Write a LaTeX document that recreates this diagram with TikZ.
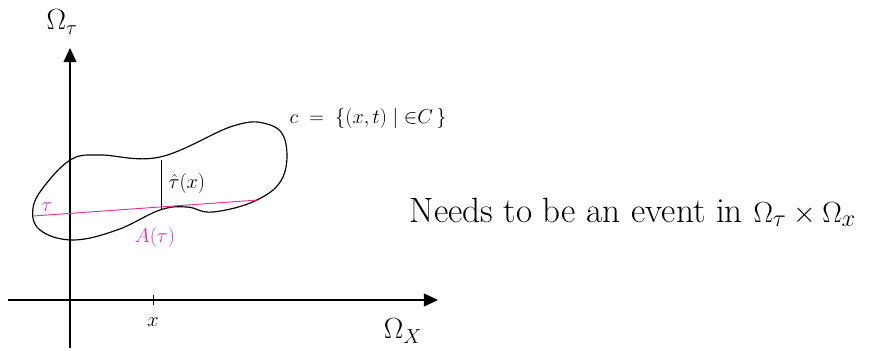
\documentclass[tikz,border=0pt]{standalone}
\usepackage{amsmath,amssymb}
\usepackage{xcolor}
\usetikzlibrary{arrows.meta}
\definecolor{pinkline}{RGB}{232,48,160}

\begin{document}
\begin{tikzpicture}[x=0.03cm, y=-0.03cm, >=Triangle, thick,
  every node/.style={inner sep=1pt},
  biglbl/.style={font=\fontsize{24}{26}\selectfont},
  midlbl/.style={font=\fontsize{16}{18}\selectfont}]
  \useasboundingbox (0,0) rectangle (876,350);
  % axes
  \coordinate (O1) at (70,348);
  \coordinate (T1) at (70,48);
  \coordinate (O2) at (8,300);
  \coordinate (X1) at (438,300);
  \draw[-{Triangle[length=12pt,width=11pt]}, line width=1pt] (O1) -- (T1);
  \draw[-{Triangle[length=12pt,width=11pt]}, line width=1pt] (O2) -- (X1);
  \coordinate (tk1) at (153,295);
  \coordinate (tk2) at (153,305);
  \draw (tk1) -- (tk2);
  \node[midlbl] (xl) at (153,322) {$x$};
  \node[biglbl] (Otau) at (62,22) {$\Omega_{\tau}$};
  \node[biglbl] (OX) at (403,331) {$\Omega_{X}$};
  % set C
  \draw[line width=1pt] plot[smooth cycle, tension=0.65] coordinates {
    (72,159) (100,155) (160,157) (233,126) (267,124) (285,140)
    (283,177) (257,200) (213,212) (187,207) (160,210) (117,230)
    (73,240) (40,230) (33,208) (46,184)};
  \coordinate (s1) at (161,160);
  \coordinate (s2) at (161,210);
  \draw (s1) -- (s2);
  \node[midlbl, anchor=west] (that) at (167,183) {$\hat{\tau}(x)$};
  % pink line
  \coordinate (p1) at (33,216);
  \coordinate (p2) at (258,200);
  \draw[pinkline] (p1) -- (p2);
  \node[pinkline, midlbl] (tl) at (47,207) {$\tau$};
  \node[pinkline, font=\fontsize{17}{19}\selectfont] (Atau) at (155,237) {$A(\tau)$};
  \node[midlbl, anchor=west] (Cdef) at (288,118) {$c \;=\; \{(x,t) \mid {\in} C\,\}$};
  \node[font=\fontsize{30}{33}\selectfont, anchor=west] (need) at (408,212) {Needs to be an event in $\Omega_{\tau}\times\Omega_{x}$};
\end{tikzpicture}
\end{document}
